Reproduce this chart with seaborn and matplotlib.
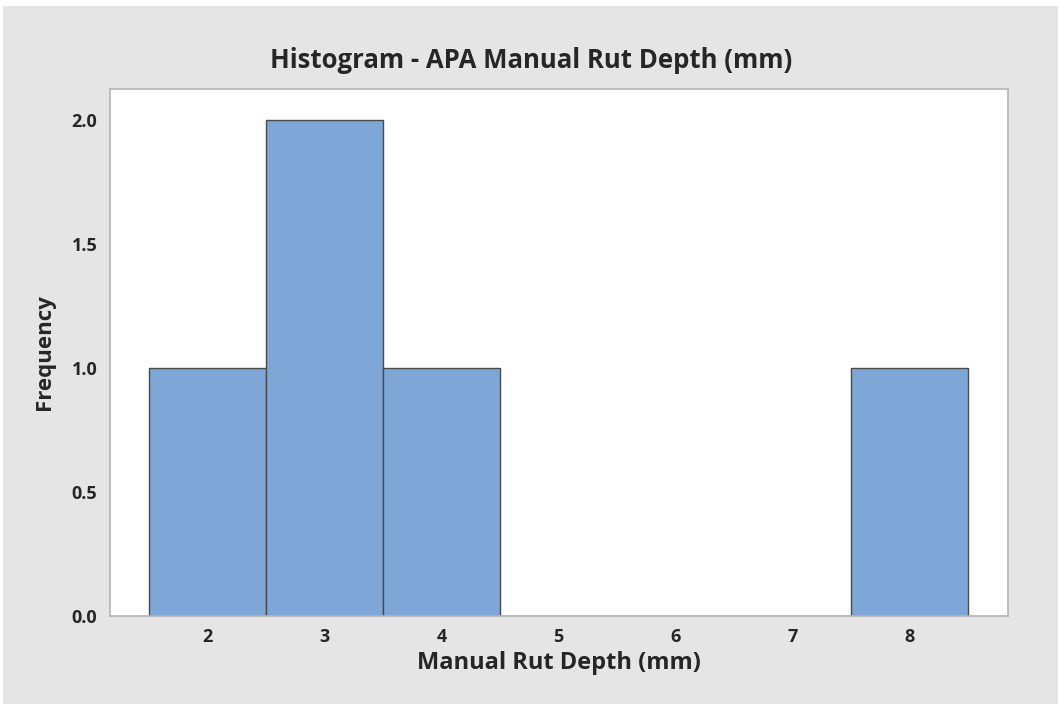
import numpy as np
import pandas as pd
import seaborn as sns
import matplotlib.pyplot as plt
from matplotlib.patches import Rectangle
from matplotlib.ticker import FormatStrFormatter

# observed rut depths (mm)
rut_depth = [2, 3, 3, 4, 8]
x_ticks = [2, 3, 4, 5, 6, 7, 8]
y_ticks = [0.0, 0.5, 1.0, 1.5, 2.0]

df = pd.DataFrame({'Manual Rut Depth (mm)': rut_depth})

sns.set_style('white')
plt.rcParams['font.family'] = ['Open Sans', 'DejaVu Sans']

fig = plt.figure(figsize=(10.61, 7.04), dpi=100, facecolor='white')
# grey panel behind the plot, like the Minitab graph window
fig.patches.append(Rectangle((3 / 1061, 0), 1055 / 1061, 698 / 704,
                             transform=fig.transFigure, facecolor='#e5e5e5',
                             edgecolor='none', zorder=-10))

ax = fig.add_axes([110 / 1061, 1 - 616 / 704, 898 / 1061, 527 / 704])
ax.set_facecolor('white')

sns.histplot(data=df, x='Manual Rut Depth (mm)', discrete=True, ax=ax,
             color='#7ea7d8', alpha=1, edgecolor='#4a4a4a', linewidth=1)

ax.set_xlim(1.17, 8.84)
ax.set_ylim(0, 2.125)
ax.set_xticks(x_ticks)
ax.set_yticks(y_ticks)
ax.yaxis.set_major_formatter(FormatStrFormatter('%.1f'))

for s in ax.spines.values():
    s.set_color('#b4b4b4')
    s.set_linewidth(1.2)

ax.tick_params(axis='both', direction='out', length=5, width=1, color='#b4b4b4',
               labelsize=13, pad=4)
for lbl in ax.get_xticklabels() + ax.get_yticklabels():
    lbl.set_fontweight('bold')

ax.set_xlabel('Manual Rut Depth (mm)', fontsize=17, fontweight='bold', labelpad=3)
ax.set_ylabel('Frequency', fontsize=16, fontweight='bold', labelpad=12)
fig.text(531 / 1061, 1 - 61 / 704, 'Histogram - APA Manual Rut Depth (mm)',
         ha='center', va='center', fontsize=18.5, fontweight='bold')

fig.savefig('out.png', dpi=100, facecolor='white')
